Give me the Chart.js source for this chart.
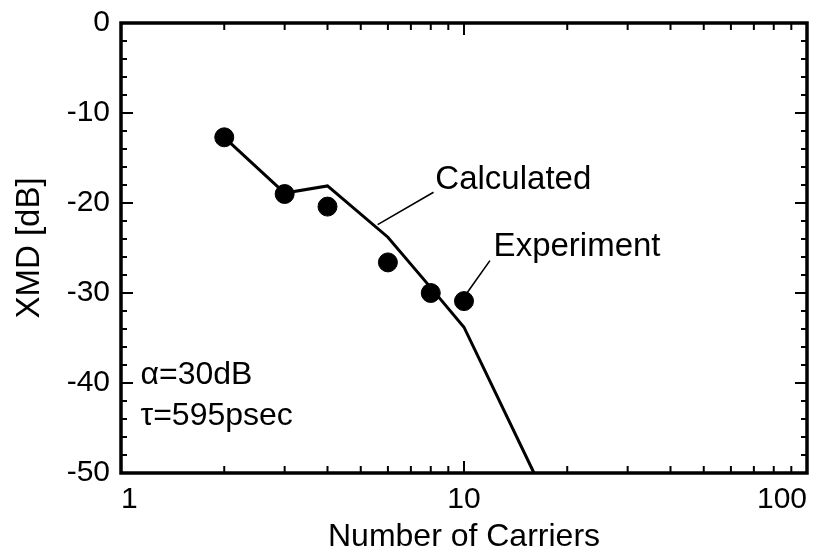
<!DOCTYPE html>
<html>
<head>
<meta charset="utf-8">
<script src="https://cdn.jsdelivr.net/npm/chart.js@4.4.1/dist/chart.umd.min.js"></script>
<style>
  html, body { margin: 0; padding: 0; background: #fff; }
  #wrap { width: 821px; height: 559px; }
</style>
</head>
<body>
<div id="wrap"><canvas id="xmd"></canvas></div>
<script>
// number of carriers vs XMD
var expCarriers = [2, 3, 4, 6, 8, 10];
var expXmd = [-12.7, -19.0, -20.4, -26.6, -30.0, -30.9];

var calcCarriers = [2, 3, 4, 6, 8, 10, 16];
var calcXmd = [-12.7, -18.9, -18.1, -23.8, -29.4, -33.8, -50];

var xMajorTicks = [1, 10, 100];
var xMinorTicks = [2, 3, 4, 5, 6, 7, 8, 9, 20, 30, 40, 50, 60, 70, 80, 90];
var yMajorTicks = [0, -10, -20, -30, -40, -50];
var yMinorTicks = [-2, -4, -6, -8, -12, -14, -16, -18, -22, -24, -26, -28,
                   -32, -34, -36, -38, -42, -44, -46, -48];

// text notes in data space, leader lines from -> to
var noteTexts = ['Calculated', 'Experiment', '\u03b1=30dB', '\u03c4=595psec'];
var noteX = [8.25, 12.2, 1.14, 1.14];
var noteY = [-17.4, -24.9, -39.1, -43.7];
var leaderFrom = [[5.6, -22.4], [10.2, -30.0]];
var leaderTo = [[8.15, -18.8], [11.9, -26.4]];

var FONT = "'Liberation Sans', Arial, Helvetica, sans-serif";
Chart.defaults.font.family = FONT;
Chart.defaults.color = '#000';

function toPoints(xs, ys) {
    var pts = [];
    for (var i = 0; i < xs.length; i++) {
        pts.push({x: xs[i], y: ys[i]});
    }
    return pts;
}

// box around the plot, ticks pointing inward on every side, notes
var framePlugin = {
    id: 'frame',
    afterDatasetsDraw: function(chart) {
        var ctx = chart.ctx;
        var a = chart.chartArea;
        var xs = chart.scales.x;
        var ys = chart.scales.y;
        var i, p;
        ctx.save();
        ctx.strokeStyle = '#000';
        ctx.lineWidth = 3.5;
        ctx.strokeRect(a.left, a.top, a.right - a.left, a.bottom - a.top);

        ctx.lineWidth = 2;
        ctx.beginPath();
        function xTick(v, len) {
            p = xs.getPixelForValue(v);
            ctx.moveTo(p, a.bottom); ctx.lineTo(p, a.bottom - len);
            ctx.moveTo(p, a.top); ctx.lineTo(p, a.top + len);
        }
        function yTick(v, len) {
            p = ys.getPixelForValue(v);
            ctx.moveTo(a.left, p); ctx.lineTo(a.left + len, p);
            ctx.moveTo(a.right, p); ctx.lineTo(a.right - len, p);
        }
        for (i = 0; i < xMinorTicks.length; i++) xTick(xMinorTicks[i], 7);
        for (i = 0; i < xMajorTicks.length; i++) xTick(xMajorTicks[i], 12);
        for (i = 0; i < yMinorTicks.length; i++) yTick(yMinorTicks[i], 6);
        for (i = 0; i < yMajorTicks.length; i++) yTick(yMajorTicks[i], 12);
        ctx.stroke();

        // leader lines
        ctx.lineWidth = 1.6;
        ctx.beginPath();
        for (i = 0; i < leaderFrom.length; i++) {
            ctx.moveTo(xs.getPixelForValue(leaderFrom[i][0]), ys.getPixelForValue(leaderFrom[i][1]));
            ctx.lineTo(xs.getPixelForValue(leaderTo[i][0]), ys.getPixelForValue(leaderTo[i][1]));
        }
        ctx.stroke();

        ctx.fillStyle = '#000';
        ctx.textAlign = 'left';
        ctx.textBaseline = 'middle';
        for (i = 0; i < noteTexts.length; i++) {
            ctx.font = (i < 2 ? '33px ' : '32px ') + FONT;
            ctx.fillText(noteTexts[i], xs.getPixelForValue(noteX[i]), ys.getPixelForValue(noteY[i]));
        }
        ctx.restore();
    }
};

new Chart(document.getElementById('xmd'), {
    type: 'scatter',
    data: {
        datasets: [
            {
                label: 'Calculated',
                data: toPoints(calcCarriers, calcXmd),
                showLine: true,
                borderColor: '#000',
                borderWidth: 3,
                pointRadius: 0,
                fill: false,
                clip: false
            },
            {
                label: 'Experiment',
                data: toPoints(expCarriers, expXmd),
                showLine: false,
                backgroundColor: '#000',
                borderColor: '#000',
                pointRadius: 9.5,
                clip: false
            }
        ]
    },
    options: {
        responsive: true,
        maintainAspectRatio: false,
        animation: false,
        events: [],
        layout: {
            padding: {top: 23, right: 14, left: 0, bottom: 0}
        },
        plugins: {
            legend: {display: false},
            tooltip: {enabled: false}
        },
        scales: {
            x: {
                type: 'logarithmic',
                min: 1,
                max: 100,
                grid: {display: false, drawTicks: false},
                border: {display: false},
                afterBuildTicks: function(scale) {
                    scale.ticks = xMajorTicks.map(function(v) { return {value: v}; });
                },
                afterFit: function(scale) {
                    scale.height = 86;
                    scale.paddingLeft = 0;
                    scale.paddingRight = 0;
                },
                ticks: {
                    autoSkip: false,
                    maxRotation: 0,
                    align: 'inner',
                    padding: 9,
                    font: {size: 30},
                    callback: function(v) { return String(v); }
                },
                title: {
                    display: true,
                    text: 'Number of Carriers',
                    font: {size: 32},
                    padding: {top: 0, bottom: 3}
                }
            },
            y: {
                min: -50,
                max: 0,
                grid: {display: false, drawTicks: false},
                border: {display: false},
                afterBuildTicks: function(scale) {
                    scale.ticks = yMajorTicks.map(function(v) { return {value: v}; });
                },
                afterFit: function(scale) {
                    scale.width = 121;
                    scale.paddingTop = 0;
                    scale.paddingBottom = 0;
                },
                ticks: {
                    padding: 11,
                    font: {size: 30}
                },
                title: {
                    display: true,
                    text: 'XMD [dB]',
                    font: {size: 33},
                    padding: {top: 10, bottom: 0}
                }
            }
        }
    },
    plugins: [framePlugin]
});
</script>
</body>
</html>
